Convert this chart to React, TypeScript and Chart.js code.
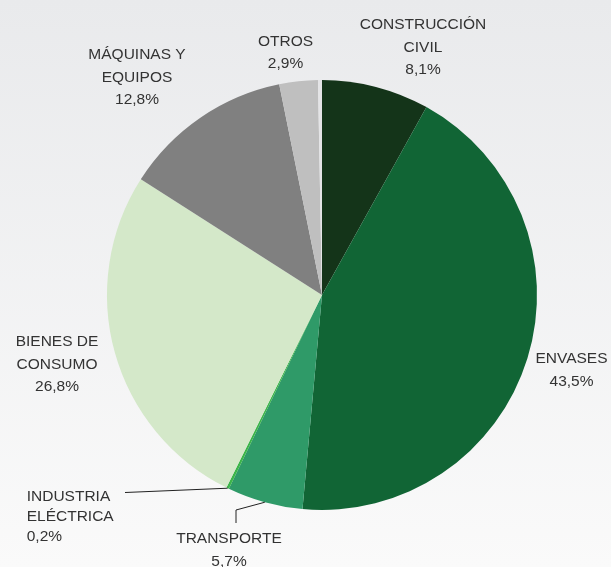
import { useEffect, useRef } from "react";
import { Chart, registerables } from "chart.js";

Chart.register(...registerables);

const categories = [
  "CONSTRUCCIÓN CIVIL",
  "ENVASES",
  "TRANSPORTE",
  "INDUSTRIA ELÉCTRICA",
  "BIENES DE CONSUMO",
  "MÁQUINAS Y EQUIPOS",
  "OTROS",
  "",
];
const categoryLines = [
  ["CONSTRUCCIÓN", "CIVIL"],
  ["ENVASES"],
  ["TRANSPORTE"],
  ["INDUSTRIA", "ELÉCTRICA"],
  ["BIENES DE", "CONSUMO"],
  ["MÁQUINAS Y", "EQUIPOS"],
  ["OTROS"],
  [],
];
const shares = [8.1, 43.5, 5.7, 0.2, 26.8, 12.8, 2.9, 0.3];
const shareLabels = ["8,1%", "43,5%", "5,7%", "0,2%", "26,8%", "12,8%", "2,9%", ""];
const sliceColors = [
  "#143419",
  "#116535",
  "#2f9a68",
  "#3cb54a",
  "#d4e8c9",
  "#808080",
  "#bfbfbf",
  "#e4e4e6",
];

// label placement (layout only)
const labelLayout: any[] = [
  { x: 423, y: 23.5, align: "center", lh: 22.5 },
  { x: 571.5, y: 357, align: "center", lh: 23.5 },
  { x: 229, y: 537, align: "center", lh: 23, leader: [[236, 523], [236, 510]] },
  { x: 26.7, y: 495.5, align: "left", lh: 20, leader: [[125, 492.5]] },
  { x: 57, y: 340.5, align: "center", lh: 22.5 },
  { x: 137, y: 53.5, align: "center", lh: 22.5 },
  { x: 285.5, y: 40.5, align: "center", lh: 22 },
  null,
];

const bgPlugin = {
  id: "bg",
  beforeDraw(chart: any) {
    const { ctx, width, height } = chart;
    const g = ctx.createLinearGradient(0, 0, 0, height);
    g.addColorStop(0, "#e9eaec");
    g.addColorStop(1, "#fafafa");
    ctx.save();
    ctx.fillStyle = g;
    ctx.fillRect(0, 0, width, height);
    ctx.restore();
  },
};

const labelPlugin = {
  id: "sliceLabels",
  afterDraw(chart: any) {
    const { ctx } = chart;
    const meta = chart.getDatasetMeta(0);
    ctx.save();
    ctx.font = "15.5px 'Liberation Sans', Arial, sans-serif";
    ctx.fillStyle = "#333333";
    ctx.textBaseline = "alphabetic";
    meta.data.forEach((arc: any, i: number) => {
      const lay = labelLayout[i];
      if (!lay) return;
      const lines = [...categoryLines[i], shareLabels[i]];
      ctx.textAlign = lay.align;
      lines.forEach((t: string, k: number) => {
        ctx.fillText(t, lay.x, lay.y + k * lay.lh + 5.5);
      });
      if (lay.leader) {
        const p = arc.getProps(["x", "y", "startAngle", "endAngle", "outerRadius"], true);
        const mid = (p.startAngle + p.endAngle) / 2;
        const ex = p.x + Math.cos(mid) * p.outerRadius;
        const ey = p.y + Math.sin(mid) * p.outerRadius;
        ctx.beginPath();
        ctx.strokeStyle = "#222222";
        ctx.lineWidth = 1;
        ctx.moveTo(lay.leader[0][0], lay.leader[0][1]);
        for (let j = 1; j < lay.leader.length; j++) ctx.lineTo(lay.leader[j][0], lay.leader[j][1]);
        ctx.lineTo(ex, ey);
        ctx.stroke();
      }
    });
    ctx.restore();
  },
};

export default function App() {
  const ref = useRef<HTMLCanvasElement>(null);
  useEffect(() => {
    document.body.style.margin = "0";
    const chart = new Chart(ref.current!, {
      type: "pie",
      data: {
        labels: categories,
        datasets: [
          {
            data: shares,
            backgroundColor: sliceColors,
            borderWidth: 0,
            hoverOffset: 0,
          },
        ],
      },
      options: {
        responsive: false,
        animation: false,
        layout: { padding: { top: 80, bottom: 57, left: 107, right: 74 } },
        plugins: {
          legend: { display: false },
          tooltip: { enabled: false },
        },
      },
      plugins: [bgPlugin, labelPlugin],
    });
    return () => chart.destroy();
  }, []);
  return <canvas ref={ref} width={611} height={567} style={{ display: "block" }} />;
}
